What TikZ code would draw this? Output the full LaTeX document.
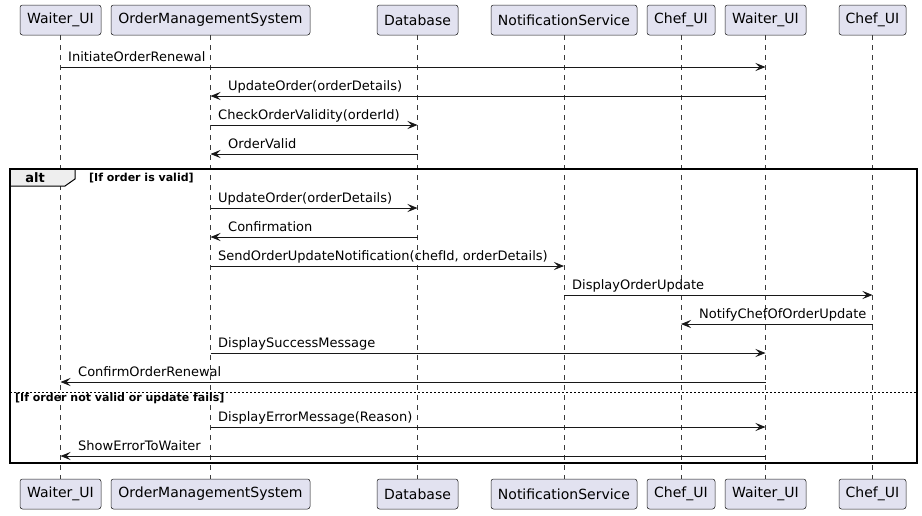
\documentclass[tikz,border=0pt]{standalone}
\usepackage{fontspec}
\setmainfont{DejaVu Sans}
\usetikzlibrary{arrows.meta}
\definecolor{partfill}{HTML}{E2E2F0}
\definecolor{partline}{HTML}{181818}
\definecolor{tabfill}{HTML}{EEEEEE}
\begin{document}
\begin{tikzpicture}[x=1pt,y=-1pt,
  part/.style={draw=partline, fill=partfill, rounded corners=2.5pt, minimum height=30pt,
    inner sep=0pt, line width=0.5pt, font=\fontsize{14}{16}\selectfont},
  life/.style={draw=partline!85, dash pattern=on 5pt off 5pt, line width=0.5pt},
  msg/.style={draw=partline, line width=0.9pt, -{Stealth[length=10pt,width=8pt,inset=4pt]}},
  lbl/.style={font=\fontsize{13}{15}\selectfont, anchor=base west, inner sep=0pt, text=black},
  guard/.style={font=\bfseries\fontsize{11}{13}\selectfont, anchor=base west, inner sep=0pt},
  frame/.style={draw=black, line width=1.5pt}
]
\useasboundingbox[fill=white] (0,0) rectangle (922,515);

% top participants
\node[part, minimum width=81pt]  (w1t) at (60.5,20)  {Waiter\_UI};
\node[part, minimum width=199pt] (omt) at (210.5,20) {OrderManagementSystem};
\node[part, minimum width=81pt]  (dbt) at (417.5,20) {Database};
\node[part, minimum width=146pt] (nst) at (564,20)   {NotificationService};
\node[part, minimum width=68pt]  (c1t) at (681,20)   {Chef\_UI};
\node[part, minimum width=81pt]  (w2t) at (765.5,20) {Waiter\_UI};
\node[part, minimum width=67pt]  (c2t) at (872.5,20) {Chef\_UI};
% bottom participants
\node[part, minimum width=81pt]  (w1b) at (60.5,494)  {Waiter\_UI};
\node[part, minimum width=199pt] (omb) at (210.5,494) {OrderManagementSystem};
\node[part, minimum width=81pt]  (dbb) at (417.5,494) {Database};
\node[part, minimum width=146pt] (nsb) at (564,494)   {NotificationService};
\node[part, minimum width=68pt]  (c1b) at (681,494)   {Chef\_UI};
\node[part, minimum width=81pt]  (w2b) at (765.5,494) {Waiter\_UI};
\node[part, minimum width=67pt]  (c2b) at (872.5,494) {Chef\_UI};

% lifelines
\foreach \p in {w1,om,db,ns,c1,w2,c2}
  \draw[life] (\p t.south) -- (\p b.north);

% alt frame
\draw[frame] (10,169) rectangle (917,463);
\draw[frame, fill=tabfill, line width=1pt] (10,169) -- (75,169) -- (75,179) -- (65,186) -- (10,186) -- cycle;
\draw[frame] (10,169) rectangle (917,463);
\node[font=\bfseries\fontsize{13}{15}\selectfont, anchor=base, inner sep=0pt] (altl) at (35,182) {alt};
\node[guard] (g1) at (89,181) {[If order is valid]};
\draw[black, line width=0.8pt, dash pattern=on 2pt off 2pt] (10,392) -- (917,392);
\node[guard] (g2) at (15,401) {[If order not valid or update fails]};

% messages
\draw[msg] (w1t |- 0,67) -- (w2t |- 0,67);
\node[lbl] (m1) at (68,61.5) {InitiateOrderRenewal};
\draw[msg] (w2t |- 0,96) -- (omt |- 0,96);
\node[lbl] (m2) at (228,90.5) {UpdateOrder(orderDetails)};
\draw[msg] (omt |- 0,125) -- (dbt |- 0,125);
\node[lbl] (m3) at (218,119.5) {CheckOrderValidity(orderId)};
\draw[msg] (dbt |- 0,154) -- (omt |- 0,154);
\node[lbl] (m4) at (228,148.5) {OrderValid};
\draw[msg] (omt |- 0,208) -- (dbt |- 0,208);
\node[lbl] (m5) at (218,202.5) {UpdateOrder(orderDetails)};
\draw[msg] (dbt |- 0,237) -- (omt |- 0,237);
\node[lbl] (m6) at (228,231.5) {Confirmation};
\draw[msg] (omt |- 0,266) -- (nst |- 0,266);
\node[lbl] (m7) at (218,260.5) {SendOrderUpdateNotification(chefId, orderDetails)};
\draw[msg] (nst |- 0,295) -- (c2t |- 0,295);
\node[lbl] (m8) at (572,289.5) {DisplayOrderUpdate};
\draw[msg] (c2t |- 0,324) -- (c1t |- 0,324);
\node[lbl] (m9) at (699,318.5) {NotifyChefOfOrderUpdate};
\draw[msg] (omt |- 0,353) -- (w2t |- 0,353);
\node[lbl] (m10) at (218,347.5) {DisplaySuccessMessage};
\draw[msg] (w2t |- 0,382) -- (w1t |- 0,382);
\node[lbl] (m11) at (78,376.5) {ConfirmOrderRenewal};
\draw[msg] (omt |- 0,427) -- (w2t |- 0,427);
\node[lbl] (m12) at (218,421.5) {DisplayErrorMessage(Reason)};
\draw[msg] (w2t |- 0,456) -- (w1t |- 0,456);
\node[lbl] (m13) at (78,450.5) {ShowErrorToWaiter};
\end{tikzpicture}
\end{document}
